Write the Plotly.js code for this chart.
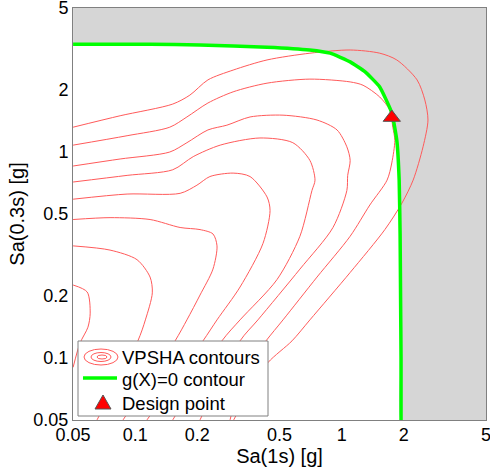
<!DOCTYPE html>
<html><head><meta charset="utf-8">
<script src="https://cdn.plot.ly/plotly-3.0.1.min.js"></script>
<style>html,body{margin:0;padding:0;background:#fff;}#chart{width:490px;height:473px;}</style>
</head><body><div id="chart"></div>
<script>
// Tick values / labels
const tickVals = [0.05, 0.1, 0.2, 0.5, 1, 2, 5];
const tickText = ["0.05", "0.1", "0.2", "0.5", "1", "2", "5"];

// g(X)=0 limit-state contour (Sa(1s), Sa(0.3s)) in g
const gX = [0.05, 0.118, 0.206, 0.435, 0.70, 0.88, 1.10, 1.30, 1.53, 1.75, 1.85, 1.90, 1.92, 1.93, 1.94, 1.94];
const gY = [3.34, 3.34, 3.31, 3.23, 3.13, 3.02, 2.74, 2.45, 2.07, 1.55, 1.14, 0.73, 0.40, 0.20, 0.10, 0.05];

// Design point
const dpX = [1.75];
const dpY = [1.47];

// VPSHA joint-density contours (outermost c1 to innermost c8)
const c1x = [0.05, 0.0845, 0.152, 0.184, 0.225, 0.298, 0.435, 0.702, 1.10, 1.53, 1.85, 2.32, 2.53, 2.62, 2.48, 2.22, 1.96, 1.62, 1.10, 0.702, 0.575, 0.44, 0.36, 0.30];
const c1y = [1.32, 1.50, 1.71, 1.89, 2.24, 2.50, 2.80, 3.02, 3.13, 3.02, 2.80, 2.24, 1.79, 1.43, 1.06, 0.73, 0.565, 0.42, 0.26, 0.153, 0.121, 0.095, 0.07, 0.05];
const c2x = [0.05, 0.0913, 0.147, 0.178, 0.225, 0.298, 0.435, 0.702, 1.10, 1.27, 1.53, 1.71, 1.77, 1.81, 1.75, 1.66, 1.37, 1.10, 0.76, 0.52, 0.43, 0.34, 0.288];
const c2y = [1.08, 1.20, 1.32, 1.48, 1.73, 1.96, 2.16, 2.26, 2.19, 2.11, 1.85, 1.60, 1.32, 1.14, 0.885, 0.73, 0.553, 0.39, 0.247, 0.153, 0.121, 0.0875, 0.05];
const c3x = [0.05, 0.0845, 0.147, 0.178, 0.225, 0.278, 0.36, 0.52, 0.76, 0.95, 1.06, 1.10, 1.07, 1.06, 0.908, 0.628, 0.393, 0.322, 0.206];
const c3y = [0.855, 0.925, 1.00, 1.11, 1.28, 1.35, 1.48, 1.51, 1.43, 1.28, 1.06, 0.91, 0.77, 0.65, 0.43, 0.27, 0.153, 0.121, 0.05];
const c4x = [0.05, 0.0913, 0.152, 0.191, 0.258, 0.402, 0.58, 0.702, 0.743, 0.718, 0.628, 0.486, 0.322, 0.263, 0.152];
const c4y = [0.715, 0.77, 0.82, 0.95, 1.08, 1.17, 1.11, 0.91, 0.73, 0.65, 0.39, 0.24, 0.153, 0.121, 0.05];
const c5x = [0.05, 0.0913, 0.165, 0.199, 0.230, 0.298, 0.36, 0.435, 0.45, 0.416, 0.322, 0.249, 0.213, 0.114];
const c5y = [0.59, 0.625, 0.63, 0.69, 0.76, 0.79, 0.76, 0.605, 0.52, 0.36, 0.221, 0.153, 0.121, 0.05];
const c6x = [0.05, 0.0755, 0.118, 0.165, 0.206, 0.238, 0.249, 0.238, 0.206, 0.178, 0.156, 0.0873];
const c6y = [0.47, 0.48, 0.47, 0.43, 0.42, 0.40, 0.35, 0.27, 0.202, 0.153, 0.121, 0.05];
const c7x = [0.05, 0.0755, 0.102, 0.118, 0.121, 0.112, 0.103, 0.0653];
const c7y = [0.35, 0.334, 0.30, 0.247, 0.207, 0.153, 0.121, 0.05];
const c8x = [0.05, 0.0585, 0.0605, 0.059, 0.054, 0.05];
const c8y = [0.226, 0.209, 0.165, 0.141, 0.118, 0.090];

const contourSets = [[c1x,c1y],[c2x,c2y],[c3x,c3y],[c4x,c4y],[c5x,c5y],[c6x,c6y],[c7x,c7y],[c8x,c8y]];

// failure region polygon built from the g(X)=0 contour and the axis corners
const failX = gX.concat([5, 5, 0.05]);
const failY = gY.concat([0.05, 5, 5]);

const traces = [];
traces.push({x: failX, y: failY, mode: 'lines', fill: 'toself', fillcolor: '#d6d6d6',
  line: {width: 0, color: '#d6d6d6', shape: 'spline', smoothing: 0.4}, showlegend: false, hoverinfo: 'skip'});
contourSets.forEach((c, i) => {
  traces.push({x: c[0], y: c[1], mode: 'lines', name: 'VPSHA contours',
    line: {color: 'rgb(255,90,90)', width: 1, shape: 'spline', smoothing: 0.8}, showlegend: false});
});
traces.push({x: gX, y: gY, mode: 'lines', name: 'g(X)=0 contour',
  line: {color: '#00ff00', width: 3.5, shape: 'spline', smoothing: 0.4}, showlegend: false});
traces.push({x: dpX, y: dpY, mode: 'markers', name: 'Design point',
  marker: {symbol: 'triangle-up', size: 15, color: '#ff0000', line: {color: '#555', width: 1}}, showlegend: false});

// legend (drawn manually) in paper coords
const px = v => (v - 73) / 413;
const py = v => (420 - v) / 412;
const font = {family: '"Liberation Sans", Arial, sans-serif', size: 18, color: '#000'};
const shapes = [
  {type: 'rect', xref: 'paper', yref: 'paper', x0: px(78), x1: px(268), y0: py(416), y1: py(341),
   fillcolor: '#fff', line: {color: '#808080', width: 1}, layer: 'above'},
  {type: 'circle', xref: 'paper', yref: 'paper', x0: px(84), x1: px(118), y0: py(365), y1: py(349), line: {color: 'rgb(255,90,90)', width: 1}, layer: 'above'},
  {type: 'circle', xref: 'paper', yref: 'paper', x0: px(91), x1: px(111), y0: py(361.5), y1: py(352.5), line: {color: 'rgb(255,90,90)', width: 1}, layer: 'above'},
  {type: 'circle', xref: 'paper', yref: 'paper', x0: px(97), x1: px(107), y0: py(359), y1: py(355), line: {color: 'rgb(255,90,90)', width: 1}, layer: 'above'},
  {type: 'line', xref: 'paper', yref: 'paper', x0: px(83), x1: px(117), y0: py(378), y1: py(378), line: {color: '#00ff00', width: 3.5}, layer: 'above'},
  {type: 'path', xref: 'paper', yref: 'paper', layer: 'above', fillcolor: '#ff0000', line: {color: '#555', width: 1},
   path: `M ${px(103)} ${py(395)} L ${px(111)} ${py(409)} L ${px(95)} ${py(409)} Z`}
];
const annotations = [
  {text: 'VPSHA contours', y: py(357)},
  {text: 'g(X)=0 contour', y: py(379)},
  {text: 'Design point', y: py(403)}
].map(a => ({xref: 'paper', yref: 'paper', x: px(120), y: a.y, xanchor: 'left', yanchor: 'middle',
  showarrow: false, text: a.text, font: Object.assign({}, font, {size: 18.5})}));

const lo = Math.log10(0.05) - 0.0005, hi = Math.log10(5) + 0.0005;
const axisCommon = {
  type: 'log', tickvals: tickVals, ticktext: tickText, showgrid: false, zeroline: false,
  showline: true, mirror: true, linecolor: '#808080', linewidth: 1, ticks: '',
  tickfont: font, automargin: false, range: [lo, hi], ticklabeloverflow: 'allow'
};
const layout = {
  width: 490, height: 473,
  margin: {l: 73, r: 4, t: 8, b: 53},
  paper_bgcolor: '#fff', plot_bgcolor: '#fff',
  showlegend: false,
  xaxis: Object.assign({}, axisCommon, {ticklabelstandoff: -2,
    title: {text: 'Sa(1s) [g]', font: Object.assign({}, font, {size: 20}), standoff: 0}}),
  yaxis: Object.assign({}, axisCommon, {
    title: {text: 'Sa(0.3s) [g]', font: Object.assign({}, font, {size: 20}), standoff: 3}}),
  shapes: shapes,
  annotations: annotations
};
Plotly.newPlot('chart', traces, layout, {staticPlot: true, displayModeBar: false});
</script>
</body></html>
